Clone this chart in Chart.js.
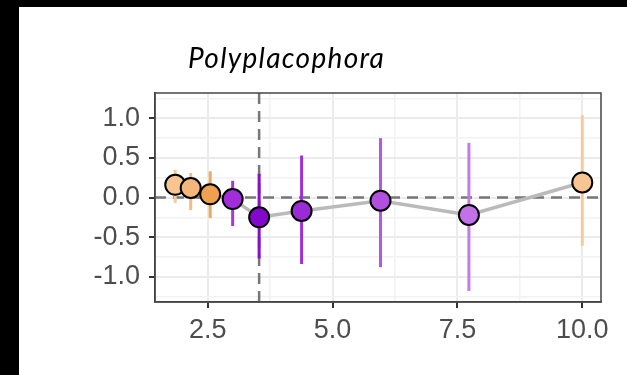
<!DOCTYPE html>
<html>
<head>
<meta charset="utf-8">
<script src="https://cdn.jsdelivr.net/npm/chart.js@4.4.1/dist/chart.umd.min.js"></script>
<style>
  html, body { margin: 0; padding: 0; background: #000; width: 627px; height: 375px; overflow: hidden; }
  #painel { position: absolute; left: 19px; top: 7px; width: 608px; height: 368px; background: #fff; }
  #titulo { position: absolute; left: 169px; top: 36px; font: italic 28px Lato, sans-serif; letter-spacing: 1.3px; line-height: 1; color: #000; }
  #grafico { position: absolute; left: 0; top: 0; }
</style>
</head>
<body>
<div id="painel">
  <canvas id="grafico" width="608" height="368"></canvas>
  <div id="titulo">Polyplacophora</div>
</div>
<script>
//Dados dos pontos (x, efeito e intervalo)
var valoresX = [1.85, 2.16, 2.55, 3.0, 3.53, 4.38, 5.96, 7.73, 10.0];
var efeitos = [0.16, 0.12, 0.04, -0.02, -0.25, -0.17, -0.04, -0.22, 0.19];
var limiteInferior = [-0.07, -0.16, -0.26, -0.36, -0.77, -0.84, -0.88, -1.18, -0.61];
var limiteSuperior = [0.35, 0.31, 0.33, 0.21, 0.30, 0.53, 0.75, 0.69, 1.04];
var coresPontos = ["#f8c592", "#f5b67c", "#f0a04f", "#a22ed9", "#8308cc", "#9b2bd7", "#b04fe0", "#c271e8", "#f8c592"];
var coresBarras = ["#f7c99a", "#f5bb84", "#f0a85c", "#a637da", "#860dcd", "#9c30d8", "#b457e2", "#c57aea", "#f7c99a"];

//Ticks dos eixos
var ticksX = [2.5, 5.0, 7.5, 10.0];
var ticksXMenores = [3.75, 6.25, 8.75];
var ticksY = [-1.0, -0.5, 0.0, 0.5, 1.0];
var ticksYMenores = [-1.25, -0.75, -0.25, 0.25, 0.75, 1.25];
var limitesX = [1.445, 10.375];
var limitesY = [-1.32, 1.32];
var linhaVerticalX = 3.53;

//Monta as barras de erro como segmentos separados por null
var dadosBarras = [];
for (var i = 0; i < valoresX.length; i++) {
  dadosBarras.push({ x: valoresX[i], y: limiteInferior[i] });
  dadosBarras.push({ x: valoresX[i], y: limiteSuperior[i] });
  dadosBarras.push({ x: valoresX[i], y: null });
}
var dadosPontos = valoresX.map(function (x, i) {
  return { x: x, y: efeitos[i] };
});

function ehMaior(lista, valor) {
  return lista.some(function (v) { return Math.abs(v - valor) < 1e-6; });
}

//Borda do painel (topo e direita)
var bordaPainel = {
  id: "bordaPainel",
  afterDraw: function (chart) {
    var a = chart.chartArea;
    var ctx = chart.ctx;
    ctx.save();
    ctx.strokeStyle = "#444";
    ctx.lineWidth = 1.5;
    ctx.strokeRect(a.left, a.top, a.right - a.left, a.bottom - a.top);
    ctx.restore();
  },
};

var fonteTicks = { family: "'Liberation Sans', Arial, sans-serif", size: 27 };

new Chart(document.getElementById("grafico").getContext("2d"), {
  type: "scatter",
  data: {
    datasets: [
      {
        label: "pontos",
        data: dadosPontos,
        pointRadius: 10,
        pointHoverRadius: 10,
        pointBackgroundColor: coresPontos,
        pointBorderColor: "#000",
        pointBorderWidth: 2,
        order: 0,
      },
      {
        label: "linha",
        data: dadosPontos,
        showLine: true,
        borderColor: "#bababa",
        borderWidth: 3.5,
        pointRadius: 0,
        order: 1,
      },
      {
        label: "barras",
        data: dadosBarras,
        showLine: true,
        spanGaps: false,
        borderWidth: 3,
        pointRadius: 0,
        segment: {
          borderColor: function (ctx) {
            return coresBarras[Math.floor(ctx.p0DataIndex / 3)];
          },
        },
        order: 2,
      },
      {
        label: "zero",
        data: [{ x: limitesX[0], y: 0 }, { x: limitesX[1], y: 0 }],
        showLine: true,
        borderColor: "#777",
        borderWidth: 2.5,
        borderDash: [11, 7],
        pointRadius: 0,
        order: 3,
      },
      {
        label: "vertical",
        data: [{ x: linhaVerticalX, y: limitesY[0] }, { x: linhaVerticalX, y: limitesY[1] }],
        showLine: true,
        borderColor: "#777",
        borderWidth: 2.5,
        borderDash: [11, 7],
        pointRadius: 0,
        order: 3,
      },
    ],
  },
  plugins: [bordaPainel],
  options: {
    responsive: false,
    animation: false,
    layout: {
      padding: { top: 86, right: 26, left: 0, bottom: 0 },
    },
    plugins: {
      legend: { display: false },
      tooltip: { enabled: false },
      title: { display: false },
    },
    scales: {
      x: {
        type: "linear",
        min: limitesX[0],
        max: limitesX[1],
        afterBuildTicks: function (scale) {
          scale.ticks = ticksX.concat(ticksXMenores).sort(function (a, b) { return a - b; }).map(function (v) {
            return { value: v };
          });
        },
        afterFit: function (scale) {
          scale.height = 73;
        },
        ticks: {
          font: fonteTicks,
          color: "#4d4d4d",
          padding: 6,
          maxRotation: 0,
          autoSkip: false,
          callback: function (value) {
            return ehMaior(ticksX, value) ? value.toFixed(1) : "";
          },
        },
        grid: {
          color: function (ctx) {
            return ctx.tick && ehMaior(ticksX, ctx.tick.value) ? "#ebebeb" : "#f2f2f2";
          },
          lineWidth: function (ctx) {
            return ctx.tick && ehMaior(ticksX, ctx.tick.value) ? 2 : 1.5;
          },
          tickColor: function (ctx) {
            return ctx.tick && ehMaior(ticksX, ctx.tick.value) ? "#333" : "rgba(0,0,0,0)";
          },
          tickWidth: 2,
          tickLength: 6,
        },
        border: { display: true, color: "#444", width: 1.5 },
      },
      y: {
        type: "linear",
        min: limitesY[0],
        max: limitesY[1],
        afterBuildTicks: function (scale) {
          scale.ticks = ticksY.concat(ticksYMenores).sort(function (a, b) { return a - b; }).map(function (v) {
            return { value: v };
          });
        },
        afterFit: function (scale) {
          scale.width = 136;
        },
        ticks: {
          font: fonteTicks,
          color: "#4d4d4d",
          padding: 9,
          autoSkip: false,
          callback: function (value) {
            return ehMaior(ticksY, value) ? value.toFixed(1) : "";
          },
        },
        grid: {
          color: function (ctx) {
            return ctx.tick && ehMaior(ticksY, ctx.tick.value) ? "#ebebeb" : "#f2f2f2";
          },
          lineWidth: function (ctx) {
            return ctx.tick && ehMaior(ticksY, ctx.tick.value) ? 2 : 1.5;
          },
          tickColor: function (ctx) {
            return ctx.tick && ehMaior(ticksY, ctx.tick.value) ? "#333" : "rgba(0,0,0,0)";
          },
          tickWidth: 2,
          tickLength: 6,
        },
        border: { display: true, color: "#444", width: 1.5 },
      },
    },
  },
});
</script>
</body>
</html>
